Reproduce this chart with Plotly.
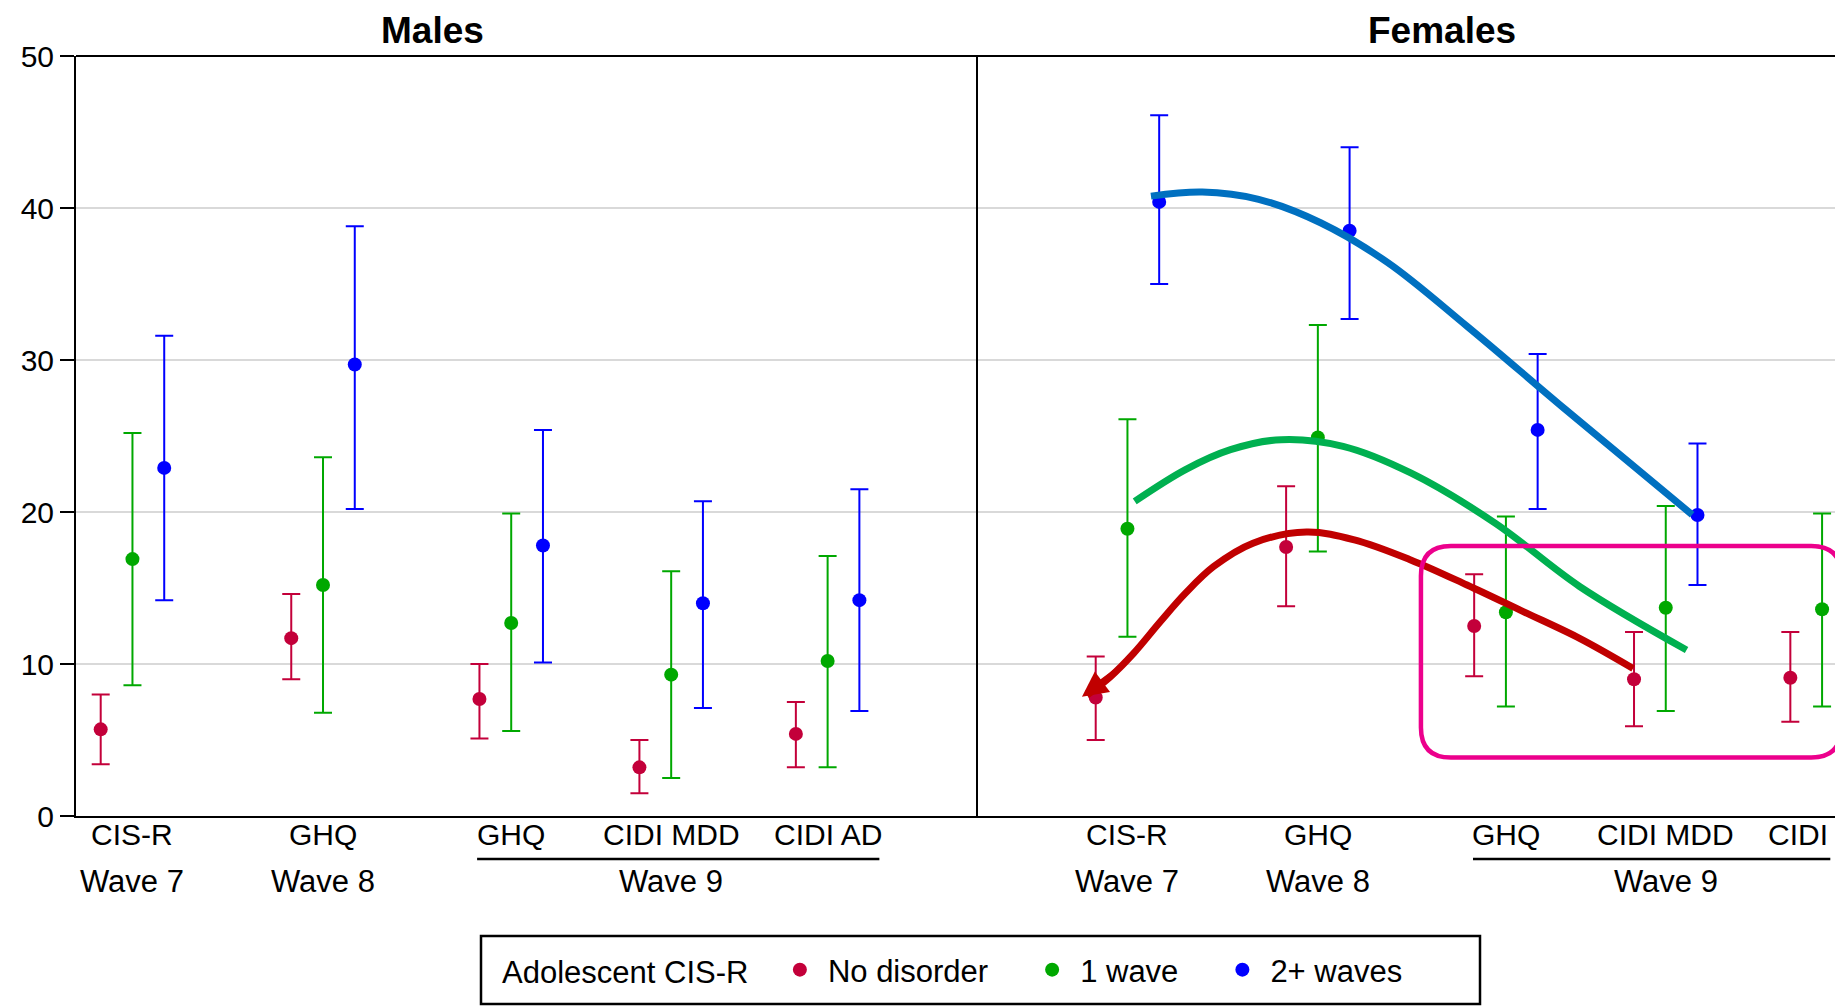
import numpy as np
import plotly.graph_objects as go

# ---------------- data ----------------
tests = ["CIS-R", "GHQ", "GHQ", "CIDI MDD", "CIDI AD"]
wave_labels = ["Wave 7", "Wave 8", "Wave 9"]
series_names = ["No disorder", "1 wave", "2+ waves"]

male_none = [5.7, 11.7, 7.7, 3.2, 5.4]
male_none_lo = [3.4, 9.0, 5.1, 1.5, 3.2]
male_none_hi = [8.0, 14.6, 10.0, 5.0, 7.5]
male_one = [16.9, 15.2, 12.7, 9.3, 10.2]
male_one_lo = [8.6, 6.8, 5.6, 2.5, 3.2]
male_one_hi = [25.2, 23.6, 19.9, 16.1, 17.1]
male_two = [22.9, 29.7, 17.8, 14.0, 14.2]
male_two_lo = [14.2, 20.2, 10.1, 7.1, 6.9]
male_two_hi = [31.6, 38.8, 25.4, 20.7, 21.5]

fem_none = [7.8, 17.7, 12.5, 9.0, 9.1]
fem_none_lo = [5.0, 13.8, 9.2, 5.9, 6.2]
fem_none_hi = [10.5, 21.7, 15.9, 12.1, 12.1]
fem_one = [18.9, 24.9, 13.4, 13.7, 13.6]
fem_one_lo = [11.8, 17.4, 7.2, 6.9, 7.2]
fem_one_hi = [26.1, 32.3, 19.7, 20.4, 19.9]
fem_two = [40.4, 38.5, 25.4, 19.8, None]
fem_two_lo = [35.0, 32.7, 20.2, 15.2, None]
fem_two_hi = [46.1, 44.0, 30.4, 24.5, None]

# hand-drawn trend curves on the Females panel (x in panel units, y in %)
curve_red_x = [0.135, 0.334, 0.532, 0.759, 0.974, 1.213, 1.548, 2.003, 2.411, 2.89, 3.369, 3.848, 4.327, 4.782]
curve_red_y = [7.95, 9.16, 10.70, 12.78, 14.66, 16.41, 17.95, 18.68, 18.17, 16.85, 15.20, 13.45, 11.69, 9.71]
curve_green_x = [0.542, 0.974, 1.357, 1.788, 2.315, 2.89, 3.608, 4.327, 5.237]
curve_green_y = [20.70, 22.79, 24.10, 24.76, 24.32, 22.57, 19.27, 15.10, 10.92]
curve_blue_x = [0.68, 1.117, 1.596, 2.123, 2.698, 3.369, 4.207, 5.285]
curve_blue_y = [40.78, 41.05, 40.57, 39.03, 36.39, 32.22, 26.74, 19.82]

# ---------------- layout helpers ----------------
group_pos = np.array([0.48, 2.10, 3.70, 5.06, 6.39])
offsets = [-0.27, 0.0, 0.27]
wave_pos = [group_pos[0], group_pos[1], group_pos[3]]
colors = ["#C3003A", "#00A800", "#0000FF"]
FONT = "Liberation Sans, Arial, sans-serif"

# page body has an 8px margin, so the figure is 8px smaller than the window
W, H = 1835, 998
L, R, T, B = 68, 0, 48, 190
PW, PH = W - L - R, H - T - B
split = (969 - L) / PW


def px_y(yfig):
    """figure pixel row -> paper y"""
    return (H - B - yfig) / PH


def px_x(xfig):
    return (xfig - L) / PW


def arr(v):
    return np.array([np.nan if a is None else a for a in v], dtype=float)


fig = go.Figure()

panels = [
    ("x", [(male_none, male_none_lo, male_none_hi),
           (male_one, male_one_lo, male_one_hi),
           (male_two, male_two_lo, male_two_hi)], True),
    ("x2", [(fem_none, fem_none_lo, fem_none_hi),
            (fem_one, fem_one_lo, fem_one_hi),
            (fem_two, fem_two_lo, fem_two_hi)], False),
]
pad = "\u2002\u2002"
for xref, sers, legend in panels:
    for i, (v, lo, hi) in enumerate(sers):
        v, lo, hi = arr(v), arr(lo), arr(hi)
        fig.add_trace(go.Scatter(
            x=group_pos + offsets[i], y=v, mode="markers",
            name=series_names[i] + pad, legendgroup=series_names[i], showlegend=legend,
            xaxis=xref, yaxis="y",
            marker=dict(color=colors[i], size=14, symbol="circle"),
            error_y=dict(type="data", symmetric=False, array=hi - v,
                         arrayminus=v - lo, color=colors[i], thickness=2, width=9),
        ))

for cx, cy, col in [(curve_red_x, curve_red_y, "#C00000"),
                    (curve_green_x, curve_green_y, "#00B050"),
                    (curve_blue_x, curve_blue_y, "#0070C0")]:
    fig.add_trace(go.Scatter(x=cx, y=cy, mode="lines", xaxis="x2", yaxis="y",
                             line=dict(color=col, width=7, shape="spline", smoothing=1),
                             showlegend=False, hoverinfo="skip"))

annotations = []
# panel titles
annotations.append(dict(text="<b>Males</b>", x=3.03, xref="x", y=px_y(0), yref="paper",
                        yanchor="top", showarrow=False,
                        font=dict(size=37, family=FONT, color="black")))
annotations.append(dict(text="<b>Females</b>", x=3.16, xref="x2", y=px_y(0), yref="paper",
                        yanchor="top", showarrow=False,
                        font=dict(size=37, family=FONT, color="black")))

row1_y = px_y(826)
row2_y = px_y(873)
line_y = px_y(851)
for xref in ["x", "x2"]:
    for k, t in enumerate(tests):
        if xref == "x2" and k == 4:
            annotations.append(dict(text="CIDI", x=group_pos[k] - 0.48, xref=xref, xanchor="left",
                                    y=row1_y, yref="paper", yanchor="middle", showarrow=False,
                                    font=dict(size=30, family=FONT, color="black")))
        else:
            annotations.append(dict(text=t, x=group_pos[k], xref=xref, y=row1_y, yref="paper",
                                    yanchor="middle", showarrow=False,
                                    font=dict(size=30, family=FONT, color="black")))
    for k, t in enumerate(wave_labels):
        annotations.append(dict(text=t, x=wave_pos[k], xref=xref, y=row2_y, yref="paper",
                                yanchor="middle", showarrow=False,
                                font=dict(size=31, family=FONT, color="black")))

# arrowhead at start of red curve
annotations.append(dict(x=0.093, y=7.84, xref="x2", yref="y", ax=0.40, ay=9.6,
                        axref="x2", ayref="y", showarrow=True, arrowhead=2, arrowsize=0.85,
                        arrowwidth=6, arrowcolor="#C00000", text=""))

shapes = []
# top border and panel divider
shapes.append(dict(type="line", xref="paper", yref="paper", x0=0, x1=1, y0=1, y1=1,
                   line=dict(color="black", width=2)))
shapes.append(dict(type="line", xref="paper", yref="paper", x0=split, x1=split, y0=0, y1=1,
                   line=dict(color="black", width=2)))
# Wave 9 underlines
shapes.append(dict(type="line", xref="x", yref="paper", x0=3.41, x1=6.83, y0=line_y, y1=line_y,
                   line=dict(color="black", width=2.5)))
shapes.append(dict(type="line", xref="x2", yref="paper", x0=3.42, x1=6.46, y0=line_y, y1=line_y,
                   line=dict(color="black", width=2.5)))
# pink rounded highlight box on Females panel
x0, x1, y0, y1 = 2.977, 6.553, 3.85, 17.77
rx, ry = 0.255, 1.98
path = (f"M {x0+rx},{y1} L {x1-rx},{y1} Q {x1},{y1} {x1},{y1-ry} "
        f"L {x1},{y0+ry} Q {x1},{y0} {x1-rx},{y0} L {x0+rx},{y0} "
        f"Q {x0},{y0} {x0},{y0+ry} L {x0},{y1-ry} Q {x0},{y1} {x0+rx},{y1} Z")
shapes.append(dict(type="path", path=path, xref="x2", yref="y",
                   line=dict(color="#EC008C", width=4.5)))
# legend frame
shapes.append(dict(type="rect", xref="paper", yref="paper",
                   x0=px_x(473), x1=px_x(1472), y0=px_y(996), y1=px_y(928),
                   line=dict(color="black", width=2.5), fillcolor="rgba(0,0,0,0)"))

axis_common = dict(showgrid=False, zeroline=False, showticklabels=False, ticks="",
                   showline=True, linecolor="black", linewidth=2, fixedrange=True)

fig.update_layout(
    width=W, height=H,
    margin=dict(l=L, r=R, t=T, b=B),
    paper_bgcolor="white", plot_bgcolor="white",
    font=dict(family=FONT, size=30, color="black"),
    xaxis=dict(domain=[0, split], range=[0, 7.66], anchor="y", **axis_common),
    xaxis2=dict(domain=[split, 1], range=[-0.80, 6.568], anchor="y", **axis_common),
    yaxis=dict(range=[0, 50], tickvals=[0, 10, 20, 30, 40, 50], showgrid=True,
               gridcolor="#D9D9D9", gridwidth=2, zeroline=False, showline=True,
               linecolor="black", linewidth=2, ticks="outside", ticklen=14, tickwidth=2,
               tickcolor="black", tickfont=dict(size=30, family=FONT), fixedrange=True),
    legend=dict(orientation="h", x=px_x(492), xanchor="left",
                y=px_y(962), yanchor="middle", borderwidth=0, bgcolor="rgba(0,0,0,0)",
                itemwidth=46,
                title=dict(text="Adolescent CIS-R\u2002", font=dict(size=31, family=FONT)),
                font=dict(size=31, family=FONT)),
    annotations=annotations,
    shapes=shapes,
    showlegend=True,
)

fig.write_html("out.html")
